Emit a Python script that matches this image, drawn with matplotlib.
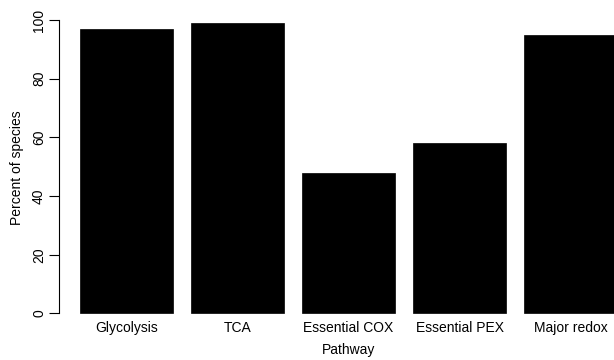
import matplotlib
matplotlib.use("Agg")
import matplotlib.pyplot as plt
import numpy as np

plt.rcParams["font.family"] = ["Liberation Sans", "DejaVu Sans"]

pathways = ["Glycolysis", "TCA", "Essential COX", "Essential PEX", "Major redox"]
percent = [97, 99, 48, 58, 95]
yticks = [0, 20, 40, 60, 80, 100]

# R barplot layout: width 1, space 0.2
centers = 0.7 + 1.2 * np.arange(len(pathways))

fig = plt.figure(figsize=(6.14, 3.6), dpi=100)
ax = fig.add_axes([0.0953, 0.0972, 0.9446, 0.8715])
ax.bar(centers, percent, width=1.0, color="black", edgecolor="black", linewidth=0.5)

ax.set_xlim(-0.032, 6.232)
ax.set_ylim(-3.96, 102.96)

for s in ["top", "right", "bottom"]:
    ax.spines[s].set_visible(False)
ax.spines["left"].set_bounds(0, 100)
ax.spines["left"].set_linewidth(0.8)

ax.set_yticks(yticks)
ax.set_yticklabels([str(t) for t in yticks], rotation=90, va="center", fontsize=10)
ax.tick_params(axis="y", length=7, width=0.8, pad=2)

ax.set_xticks(centers)
ax.set_xticklabels(pathways, fontsize=10)
ax.tick_params(axis="x", length=0, pad=-3)

ax.set_xlabel("Pathway", fontsize=10, labelpad=6)
ax.set_ylabel("Percent of species", fontsize=10, labelpad=6)

fig.savefig("out.png", dpi=100)
